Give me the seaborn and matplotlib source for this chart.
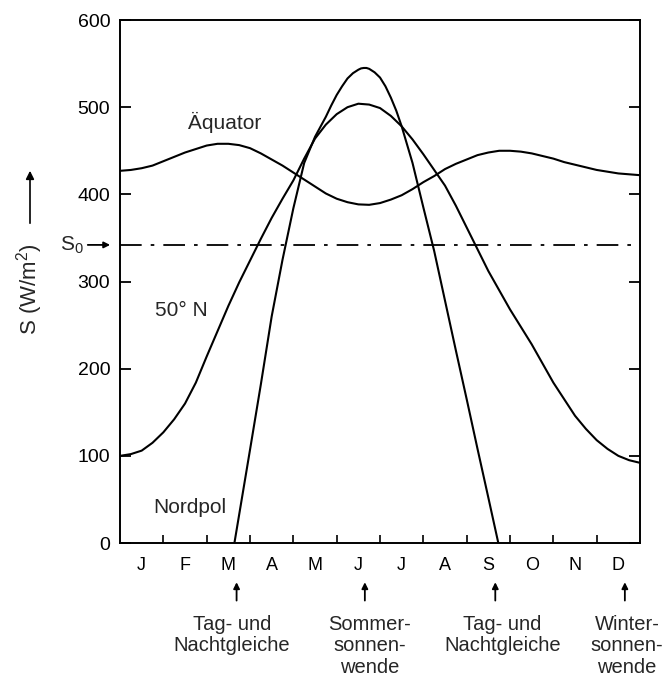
import matplotlib
matplotlib.use("Agg")
import matplotlib.pyplot as plt
from matplotlib.patches import FancyArrowPatch
import numpy as np
import pandas as pd
import seaborn as sns

# Month letters along the time axis (one interval per month)
months = ["J", "F", "M", "A", "M", "J", "J", "A", "S", "O", "N", "D"]

# Daily mean insolation S (W/m^2) over the year, time in months from 1 January
aequator_t = [0, 0.25, 0.5, 0.75, 1.0, 1.25, 1.5, 1.75, 2.0, 2.25, 2.5, 2.75,
              3.0, 3.25, 3.5, 3.75, 4.0, 4.25, 4.5, 4.75, 5.0, 5.25, 5.5, 5.75,
              6.0, 6.25, 6.5, 6.75, 7.0, 7.25, 7.5, 7.75, 8.0, 8.25, 8.5, 8.75,
              9.0, 9.25, 9.5, 9.75, 10.0, 10.25, 10.5, 10.75, 11.0, 11.25,
              11.5, 11.75, 12.0]
aequator_s = [427, 428, 430, 433, 438, 443, 448, 452, 456, 458, 458, 456.5,
              453, 447, 440, 433, 425, 417, 409, 401, 395, 391, 388.5, 388,
              390, 394, 399, 406, 414, 421, 429, 435, 440, 445, 448, 450,
              450, 449, 447, 444, 441, 437, 434, 431, 428, 426,
              424, 423, 422]

n50_t = [0, 0.25, 0.5, 0.75, 1.0, 1.25, 1.5, 1.75, 2.0, 2.25, 2.5, 2.75, 3.0,
         3.25, 3.5, 3.75, 4.0, 4.25, 4.5, 4.75, 5.0, 5.25, 5.5, 5.75, 6.0,
         6.25, 6.5, 6.75, 7.0, 7.25, 7.5, 7.75, 8.0, 8.25, 8.5, 8.75, 9.0,
         9.25, 9.5, 9.75, 10.0, 10.25, 10.5, 10.75, 11.0, 11.25, 11.5, 11.75,
         12.0]
n50_s = [100, 102, 106, 115, 127, 142, 160, 184, 214, 243, 272, 299, 324,
         349, 373, 395, 416, 441, 464, 480, 492, 500, 504, 503, 499,
         490, 478, 463, 446, 428, 410, 387, 362, 337, 312, 290, 268,
         248, 228, 206, 184, 165, 146, 131, 118, 108, 100, 95,
         92]

nordpol_t = [2.64, 3.0, 3.25, 3.5, 3.75, 4.0, 4.25, 4.5, 4.75, 4.875, 5.0,
             5.125, 5.25, 5.375, 5.5, 5.5625, 5.625, 5.6875, 5.75, 5.875,
             6.0, 6.125, 6.25, 6.375, 6.5, 6.75, 7.0, 7.25, 7.5, 7.75, 8.0,
             8.25, 8.5, 8.73]
nordpol_s = [0, 107, 182, 260, 325, 384, 436, 466, 489, 502, 514,
             524, 533, 539, 543, 544.5, 545, 545, 544, 540,
             534, 524, 511, 496, 478, 436, 385, 335, 278, 221, 165,
             108, 52, 0]

# Solar constant share S0 (W/m^2)
s0_value = 342

# Equinoxes and solstices (months from 1 January)
event_t = [2.69, 5.65, 8.66, 11.65]
event_labels = ["Tag- und\nNachtgleiche", "Sommer-\nsonnen-\nwende",
                "Tag- und\nNachtgleiche", "Winter-\nsonnen-\nwende"]
event_label_t = [2.58, 5.76, 8.82, 11.7]

curves = pd.concat([
    pd.DataFrame({"t": aequator_t, "S": aequator_s, "Breite": "Äquator"}),
    pd.DataFrame({"t": n50_t, "S": n50_s, "Breite": "50° N"}),
    pd.DataFrame({"t": nordpol_t, "S": nordpol_s, "Breite": "Nordpol"}),
], ignore_index=True)

sns.set_theme(style="ticks")
plt.rcParams["font.family"] = ["Liberation Sans", "DejaVu Sans"]
plt.rcParams["mathtext.default"] = "regular"
plt.rcParams["axes.edgecolor"] = "black"
plt.rcParams["axes.linewidth"] = 1.4

fig = plt.figure(figsize=(6.66, 6.81), dpi=100)
ax = fig.add_axes([0.1802, 0.2026, 0.7808, 0.7680])

sns.lineplot(data=curves, x="t", y="S", units="Breite", estimator=None,
             sort=False, color="black", linewidth=1.5, ax=ax, legend=False)

ax.axhline(s0_value, color="black", linewidth=1.3,
           linestyle=(0, (12, 5, 2, 5)))

ax.set_xlim(0, 12)
ax.set_ylim(0, 600)
ax.set_xlabel("")
ax.set_ylabel("")

# x axis: month letters centred in each interval, inward ticks at boundaries
ax.set_xticks(np.arange(12) + 0.5, months)
ax.set_xticks(np.arange(1, 12), minor=True)
ax.tick_params(axis="x", which="major", length=0, pad=10, labelsize=13,
               colors="black")
ax.tick_params(axis="x", which="minor", direction="in", length=6, width=1.2,
               bottom=True, top=False, color="black")

# y axis: inward ticks on both sides, labels on the left
ax.set_yticks(np.arange(0, 601, 100))
ax.tick_params(axis="y", which="major", direction="in", length=8, width=1.3,
               left=True, right=True, labelleft=True, labelright=False,
               pad=7, labelsize=14, colors="black")

# curve names
ax.text(2.41, 482, "Äquator", ha="center", va="center", fontsize=15)
ax.text(1.42, 267, "50° N", ha="center", va="center", fontsize=15)
ax.text(1.62, 41, "Nordpol", ha="center", va="center", fontsize=15)

# S0 marker left of the axis
ytrans = ax.get_yaxis_transform()
ax.text(-0.069, s0_value, "S$_0$", transform=ytrans,
        ha="right", va="center", fontsize=15)
ax.annotate("", xy=(-0.019, s0_value), xytext=(-0.062, s0_value),
            xycoords=ytrans, textcoords=ytrans, annotation_clip=False,
            arrowprops=dict(arrowstyle="-|>", color="black", lw=1.3,
                            mutation_scale=9, shrinkA=0, shrinkB=0))

# equinox / solstice markers below the month letters
xtrans = ax.get_xaxis_transform()
for t in event_t:
    ax.annotate("", xy=(t, -0.075), xytext=(t, -0.110),
                xycoords=xtrans, textcoords=xtrans, annotation_clip=False,
                arrowprops=dict(arrowstyle="-|>", color="black", lw=1.3,
                                mutation_scale=9, shrinkA=0, shrinkB=0))
for t, lab in zip(event_label_t, event_labels):
    ax.text(t, -0.138, lab, transform=xtrans, ha="center", va="top",
            fontsize=14.5, linespacing=1.15)

# y axis title with upward arrow
fig.text(30 / 666, 1 - 289 / 681, "S (W/m$^2$)", rotation=90,
         ha="center", va="center", fontsize=16)
fig.add_artist(FancyArrowPatch(
    (30 / 666, 1 - 226 / 681), (30 / 666, 1 - 168 / 681),
    transform=fig.transFigure, arrowstyle="-|>", mutation_scale=12,
    color="black", linewidth=1.2))

fig.savefig("out.png", dpi=100)
